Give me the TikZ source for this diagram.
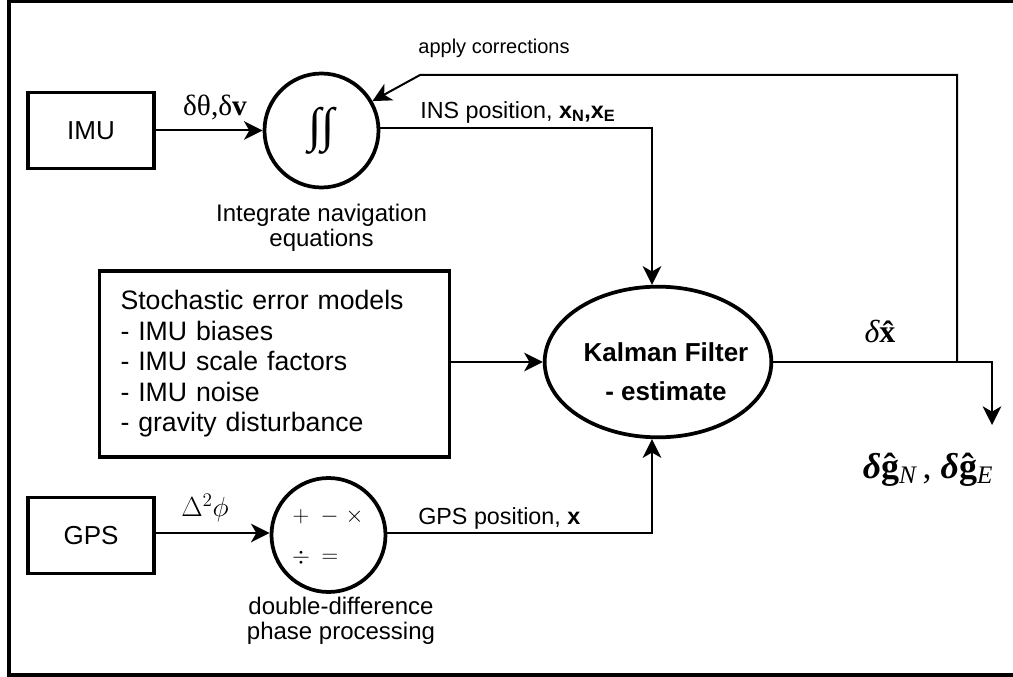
\documentclass[tikz,border=0pt]{standalone}
\usepackage{amsmath}
\usepackage[no-math]{fontspec}
\setmainfont{Liberation Sans}
\newfontfamily\serif{Liberation Serif}
\usetikzlibrary{arrows.meta,shapes.geometric}

\begin{document}
\begin{tikzpicture}[x=0.75pt,y=-0.75pt,
  frameline/.style={line width=3pt},
  thickline/.style={line width=2.8pt},
  conn/.style={line width=1.5pt},
  arr/.style={conn,-{Stealth[length=14pt,width=14pt,inset=4pt]}},
  blockbox/.style={draw,thickline,inner sep=0pt,minimum width=95pt,minimum height=57pt,font=\fontsize{19.5}{22}\selectfont},
  opcircle/.style={draw,thickline,circle,inner sep=0pt,minimum size=85.5pt},
  caption/.style={inner sep=0pt,align=center,font=\fontsize{18}{19}\selectfont},
  lbl/.style={inner sep=0pt,font=\fontsize{17.5}{20}\selectfont},
  opsym/.style={inner sep=0pt,font=\fontsize{17}{20}\selectfont},
]
\useasboundingbox (0,0) rectangle (1013,677);
\clip (0,0) rectangle (1013,677);
\draw[frameline] (8.5,1.5) rectangle (1040,675);

% blocks
\node[blockbox] (imu) at (91,130.5) {IMU};
\node[blockbox] (gps) at (91,535.5) {GPS};
\node[draw,thickline,minimum height=139.5pt,text width=231pt,inner xsep=15.75pt,align=left,
      font=\fontsize{20}{22.9}\selectfont] (stoch) at (274.5,364)
  {Stochastic error models\\- IMU biases\\- IMU scale factors\\- IMU noise\\- gravity disturbance};

% integrator
\node[opcircle] (int) at (321.5,130.5) {};
\node[inner sep=0pt,font=\serif\fontsize{36}{36}\selectfont] (intsym) at (321.5,131) {∫∫};

% double-difference processor
\node[opcircle] (dd) at (328.5,535) {};
\node[opsym] (plus) at (301,516.5) {$+$};
\node[opsym] (minus) at (329.5,516.5) {$-$};
\node[opsym] (times) at (354.5,516.5) {$\times$};
\node[opsym] (divide) at (301,558) {$\div$};
\node[opsym] (equals) at (330,558) {$=$};

% Kalman filter
\node[draw,thickline,ellipse,inner sep=0pt,minimum width=170pt,minimum height=113pt] (kf) at (658,362) {};
\node[align=center,inner sep=0pt,font=\bfseries\fontsize{19.5}{29}\selectfont] (kft) at (666,372)
  {Kalman Filter\\- estimate};

% captions under the operators
\node[caption] (intcap) at (321.5,228) {Integrate navigation\\equations};
\node[caption] (ddcap) at (341,621) {double-difference\\phase processing};

% junctions and corners
\coordinate (insc) at (652,128);
\coordinate (gpsc) at (652,533);
\coordinate (outc) at (992,362);
\coordinate (outtip) at (992,425);
\coordinate (junc) at (957,362);
\coordinate (fbtop) at (957,75);
\coordinate (fbleft) at (420,75);

% connectors
\draw[arr] (imu.east) -- (int.west);
\draw[arr] (gps.east |- gpsc) -- (dd.west |- gpsc);
\draw[arr] (stoch.east |- kf.west) -- (kf.west);
\draw[arr] (int.east |- insc) -- (insc) -- (insc |- kf.north);
\draw[arr] (dd.east |- gpsc) -- (gpsc) -- (gpsc |- kf.south);
\draw[arr] (kf.east) -- (outc) -- (outtip);
\draw[arr] (junc) -- (fbtop) -- (fbleft) -- (int.30);

% connector labels
\node[inner sep=0pt,font=\serif\fontsize{22}{24}\selectfont] (dtdv) at (215,108) {δθ,δ\textbf{v}};
\node[inner sep=0pt,font=\fontsize{21}{24}\selectfont] (ddphi) at (205,508) {$\Delta^{2}\phi$};
\node[lbl,anchor=west] (inslbl) at (420,112) {INS position, \textbf{x\textsubscript{N},x\textsubscript{E}}};
\node[lbl,anchor=west] (gpslbl) at (418,518) {GPS position, \textbf{x}};
\node[inner sep=0pt,font=\fontsize{15}{20}\selectfont] (applbl) at (494,48) {apply corrections};
\node[inner sep=0pt,font=\serif\fontsize{24}{26}\selectfont] (dxlbl) at (880,331)
  {{\itshape δ}{\bfseries x̂}};
\node[inner sep=0pt,font=\serif\fontsize{27}{28}\selectfont] (dglbl) at (928,470)
  {{\bfseries\itshape δ}{\bfseries ĝ}\textsubscript{\itshape N}\,, {\bfseries\itshape δ}{\bfseries ĝ}\textsubscript{\itshape E}};
\end{tikzpicture}
\end{document}
